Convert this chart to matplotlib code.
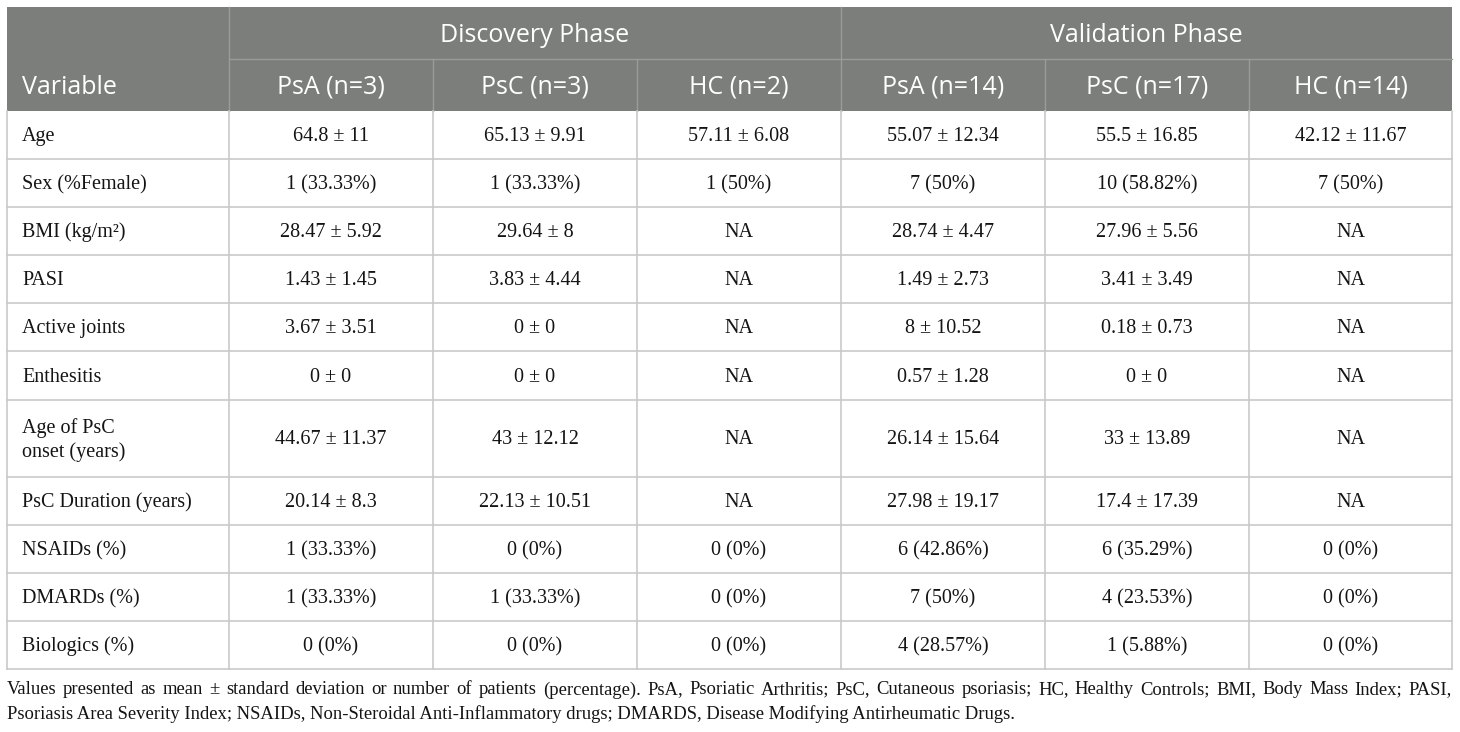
import matplotlib.pyplot as plt
from matplotlib.patches import Rectangle

# Table content
groups = ["Discovery Phase", "Validation Phase"]
col_labels = ["Variable", "PsA (n=3)", "PsC (n=3)", "HC (n=2)", "PsA (n=14)", "PsC (n=17)", "HC (n=14)"]
variables = ["Age", "Sex (%Female)", "BMI (kg/m\u00b2)", "PASI", "Active joints", "Enthesitis",
             "Age of PsC\nonset (years)", "PsC Duration (years)", "NSAIDs (%)", "DMARDs (%)", "Biologics (%)"]
disc_psa = ["64.8 \u00b1 11", "1 (33.33%)", "28.47 \u00b1 5.92", "1.43 \u00b1 1.45", "3.67 \u00b1 3.51", "0 \u00b1 0",
            "44.67 \u00b1 11.37", "20.14 \u00b1 8.3", "1 (33.33%)", "1 (33.33%)", "0 (0%)"]
disc_psc = ["65.13 \u00b1 9.91", "1 (33.33%)", "29.64 \u00b1 8", "3.83 \u00b1 4.44", "0 \u00b1 0", "0 \u00b1 0",
            "43 \u00b1 12.12", "22.13 \u00b1 10.51", "0 (0%)", "1 (33.33%)", "0 (0%)"]
disc_hc = ["57.11 \u00b1 6.08", "1 (50%)", "NA", "NA", "NA", "NA", "NA", "NA", "0 (0%)", "0 (0%)", "0 (0%)"]
val_psa = ["55.07 \u00b1 12.34", "7 (50%)", "28.74 \u00b1 4.47", "1.49 \u00b1 2.73", "8 \u00b1 10.52", "0.57 \u00b1 1.28",
           "26.14 \u00b1 15.64", "27.98 \u00b1 19.17", "6 (42.86%)", "7 (50%)", "4 (28.57%)"]
val_psc = ["55.5 \u00b1 16.85", "10 (58.82%)", "27.96 \u00b1 5.56", "3.41 \u00b1 3.49", "0.18 \u00b1 0.73", "0 \u00b1 0",
           "33 \u00b1 13.89", "17.4 \u00b1 17.39", "6 (35.29%)", "4 (23.53%)", "1 (5.88%)"]
val_hc = ["42.12 \u00b1 11.67", "7 (50%)", "NA", "NA", "NA", "NA", "NA", "NA", "0 (0%)", "0 (0%)", "0 (0%)"]
footnote = ("Values presented as mean \u00b1 standard deviation or number of patients (percentage). PsA, Psoriatic "
            "Arthritis; PsC, Cutaneous psoriasis; HC, Healthy Controls; BMI, Body Mass Index; PASI,",
            "Psoriasis Area Severity Index; NSAIDs, Non-Steroidal Anti-Inflammatory drugs; DMARDS, Disease "
            "Modifying Antirheumatic Drugs.")

columns = [variables, disc_psa, disc_psc, disc_hc, val_psa, val_psc, val_hc]

# layout in pixels
W, H = 1460, 732
col_x = [7, 229, 433, 637, 841, 1045, 1249, 1452]
hdr_y = [7, 59, 111]
row_h = [48, 48, 48, 48, 48, 49, 77, 48, 48, 48, 48]
header_bg = "#7c7e7c"
grid_c = "#c9c9c9"
head_font = "Open Sans"
body_font = "Liberation Serif"
head_fs = 18
body_fs = 14.5
foot_fs = 13.4

fig = plt.figure(figsize=(W / 100, H / 100), dpi=100)
ax = fig.add_axes([0, 0, 1, 1])
ax.set_xlim(0, W)
ax.set_ylim(H, 0)
ax.axis("off")

# header background
ax.add_patch(Rectangle((col_x[0], hdr_y[0]), col_x[-1] - col_x[0], hdr_y[2] - hdr_y[0],
                       facecolor=header_bg, edgecolor="none"))
# header lines
ax.plot([col_x[1], col_x[-1]], [hdr_y[1], hdr_y[1]], color="#9a9c9a", lw=1)
ax.plot([col_x[4], col_x[4]], [hdr_y[0], hdr_y[2]], color="#9a9c9a", lw=1)
ax.plot([col_x[1], col_x[1]], [hdr_y[0], hdr_y[2]], color="#9a9c9a", lw=1)
for cx in [col_x[2], col_x[3], col_x[5], col_x[6]]:
    ax.plot([cx, cx], [hdr_y[1], hdr_y[2]], color="#9a9c9a", lw=1)

# group headers
for i, g in enumerate(groups):
    x0, x1 = col_x[1 + 3 * i], col_x[4 + 3 * i]
    ax.text((x0 + x1) / 2, (hdr_y[0] + hdr_y[1]) / 2 + 2, g, ha="center", va="center",
            color="white", fontsize=head_fs, family=head_font)
# column headers
for j, lab in enumerate(col_labels):
    yc = (hdr_y[1] + hdr_y[2]) / 2 + 2
    if j == 0:
        ax.text(col_x[0] + 15, yc, lab, ha="left", va="center", color="white", fontsize=head_fs, family=head_font)
    else:
        ax.text((col_x[j] + col_x[j + 1]) / 2, yc, lab, ha="center", va="center",
                color="white", fontsize=head_fs, family=head_font)

# body rows
y = hdr_y[2]
row_edges = [y]
for h in row_h:
    y += h
    row_edges.append(y)

for r in range(len(variables)):
    yc = (row_edges[r] + row_edges[r + 1]) / 2 + 1.5
    for j, col in enumerate(columns):
        if j == 0:
            ax.text(col_x[0] + 15, yc, col[r], ha="left", va="center", fontsize=body_fs,
                    family=body_font, color="#141414", linespacing=1.35)
        else:
            ax.text((col_x[j] + col_x[j + 1]) / 2, yc, col[r], ha="center", va="center",
                    fontsize=body_fs, family=body_font, color="#141414")

# grid
for e in row_edges[1:]:
    ax.plot([col_x[0], col_x[-1]], [e, e], color=grid_c, lw=1.2)
for cx in col_x:
    ax.plot([cx, cx], [row_edges[0], row_edges[-1]], color=grid_c, lw=1.2)

# footnote, first line justified
fig.canvas.draw()
rend = fig.canvas.get_renderer()
words = footnote[0].split(" ")
tmp = [ax.text(0, 0, w, fontsize=foot_fs, family=body_font) for w in words]
widths = [t.get_window_extent(rend).width for t in tmp]
for t in tmp:
    t.remove()
gap = (col_x[-1] - col_x[0] - sum(widths)) / (len(words) - 1)
xx = col_x[0]
for w, wd in zip(words, widths):
    ax.text(xx, 690, w, ha="left", va="center", fontsize=foot_fs, family=body_font, color="#141414")
    xx += wd + gap
ax.text(col_x[0], 714, footnote[1], ha="left", va="center", fontsize=foot_fs, family=body_font, color="#141414")

fig.savefig("out.png", dpi=100, facecolor="white")
